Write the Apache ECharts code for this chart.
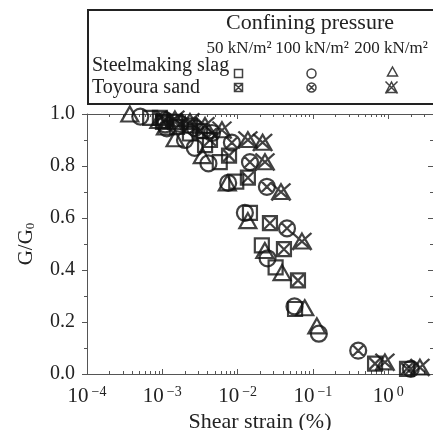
<!DOCTYPE html>
<html>
<head>
<meta charset="utf-8">
<script src="https://cdn.jsdelivr.net/npm/echarts@6/dist/echarts.min.js"></script>
<style>
  html, body { margin: 0; padding: 0; background: #fff; }
  #chart { width: 433px; height: 430px; }
</style>
</head>
<body>
<div id="chart"></div>
<script>
// Shear strain (%) against normalised shear modulus G/G0.
const slag50 = [
  [6.9e-4, 0.985], [1.02e-3, 0.97], [1.57e-3, 0.95], [2.33e-3, 0.925], [3.7e-3, 0.88],
  [5.8e-3, 0.815], [0.0096, 0.74], [0.0146, 0.62], [0.021, 0.495], [0.032, 0.41], [0.058, 0.25]
];
const slag100 = [
  [5.1e-4, 0.99], [1.09e-3, 0.96], [1.15e-3, 0.945], [2.0e-3, 0.90], [2.7e-3, 0.87],
  [4.1e-3, 0.81], [7.5e-3, 0.735], [0.0125, 0.62], [0.025, 0.445], [0.057, 0.26], [0.12, 0.155]
];
const slag200 = [
  [3.7e-4, 1.0], [9.0e-4, 0.975], [1.1e-3, 0.95], [1.48e-3, 0.905], [3.4e-3, 0.84],
  [7.3e-3, 0.735], [0.0137, 0.59], [0.023, 0.475], [0.039, 0.39], [0.078, 0.255], [0.113, 0.185]
];
const sand50 = [
  [9.3e-4, 0.985], [1.47e-3, 0.97], [2.33e-3, 0.955], [3.17e-3, 0.935], [4.3e-3, 0.90],
  [7.7e-3, 0.84], [0.0137, 0.755], [0.0269, 0.58], [0.0413, 0.48], [0.0634, 0.36],
  [0.67, 0.04], [1.78, 0.02]
];
const sand100 = [
  [1.09e-3, 0.977], [1.72e-3, 0.962], [2.72e-3, 0.946], [4.57e-3, 0.927], [8.4e-3, 0.89],
  [0.0146, 0.815], [0.0245, 0.72], [0.0453, 0.56], [0.40, 0.09], [2.0, 0.02]
];
const sand200 = [
  [1.47e-3, 0.98], [2.33e-3, 0.97], [3.69e-3, 0.955], [6.2e-3, 0.938], [0.0137, 0.90],
  [0.0215, 0.89], [0.0231, 0.815], [0.0377, 0.70], [0.0716, 0.51], [0.905, 0.045], [2.64, 0.025]
];

// Axis ticks
const xMajorTicks = [1e-4, 1e-3, 1e-2, 1e-1, 1];
const xTickExponents = ['\u22124', '\u22123', '\u22122', '\u22121', '0'];
const xMinorMultipliers = [2, 3, 4, 5, 6, 7, 8, 9];
const yTicks = [0, 0.2, 0.4, 0.6, 0.8, 1.0];
const pressureLabels = ['50 kN/m\u00b2', '100 kN/m\u00b2', '200 kN/m\u00b2'];

const xMinorTicks = [];
xMajorTicks.forEach(function (d) {
  xMinorMultipliers.forEach(function (m) {
    if (d * m < 3.9) xMinorTicks.push(d * m);
  });
});

const FONT = 'Liberation Serif';
const INK = '#111';
const AXIS = '#555';

const SYM_BOX_X = 'path://M0,0L10,0L10,10L0,10ZM0,0L10,10M10,0L0,10';
const SYM_CIRCLE_X = 'path://M0,5A5,5,0,1,1,10,5A5,5,0,1,1,0,5ZM1.46,1.46L8.54,8.54M8.54,1.46L1.46,8.54';
const SYM_TRI_X = 'path://M6,0.5L11.5,11L0.5,11ZM0,0L12,12M12,0L0,12';

const seriesDefs = [
  { name: 'Steelmaking slag 50', data: slag50, symbol: 'rect', size: 14, legendSize: [8, 8], pos: [237, 74] },
  { name: 'Steelmaking slag 100', data: slag100, symbol: 'circle', size: 16, legendSize: [9, 9], pos: [310, 74] },
  { name: 'Steelmaking slag 200', data: slag200, symbol: 'triangle', size: [17, 15], legendSize: [10, 9], pos: [391, 72] },
  { name: 'Toyoura sand 50', data: sand50, symbol: SYM_BOX_X, size: 14, legendSize: [8, 8], pos: [237, 88] },
  { name: 'Toyoura sand 100', data: sand100, symbol: SYM_CIRCLE_X, size: 16, legendSize: [9, 9], pos: [310, 88] },
  { name: 'Toyoura sand 200', data: sand200, symbol: SYM_TRI_X, size: [19, 17], legendSize: [12, 12], pos: [390, 88] }
];

const chart = echarts.init(document.getElementById('chart'), null, { renderer: 'canvas' });

function xAxisBase(position) {
  return {
    type: 'log',
    logBase: 10,
    min: 1e-4,
    max: 3.94,
    position: position,
    gridIndex: 0,
    splitLine: { show: false },
    axisLine: { show: true, onZero: false, lineStyle: { color: AXIS, width: 1 } },
    axisTick: { show: true, inside: true, length: 5, lineStyle: { color: AXIS } },
    axisLabel: { show: false }
  };
}

const xAxes = [];
// bottom: major ticks with labels
const xb = xAxisBase('bottom');
xb.axisTick.customValues = xMajorTicks;
xb.axisLabel = {
  show: true,
  customValues: xMajorTicks,
  margin: 11,
  formatter: function (v) {
    let i = 0;
    xMajorTicks.forEach(function (t, k) { if (Math.abs(t - v) / t < 1e-6) i = k; });
    return '{b|10}{s|' + xTickExponents[i] + '}';
  },
  rich: {
    b: { fontFamily: FONT, fontSize: 21, color: '#222', lineHeight: 22 },
    s: { fontFamily: FONT, fontSize: 14, color: '#222', lineHeight: 8, verticalAlign: 'top', padding: [0, 0, 0, 3] }
  }
};
xb.name = 'Shear strain (%)';
xb.nameLocation = 'middle';
xb.nameGap = 33;
xb.nameTextStyle = { fontFamily: FONT, fontSize: 22, color: '#222', verticalAlign: 'top' };
xAxes.push(xb);
// bottom: minor ticks
const xbm = xAxisBase('bottom');
xbm.axisLine.show = false;
xbm.axisTick.customValues = xMinorTicks;
xbm.axisTick.length = 3;
xAxes.push(xbm);
// top: major ticks
const xt = xAxisBase('top');
xt.axisTick.customValues = xMajorTicks;
xAxes.push(xt);
// top: minor ticks
const xtm = xAxisBase('top');
xtm.axisLine.show = false;
xtm.axisTick.customValues = xMinorTicks;
xtm.axisTick.length = 3;
xAxes.push(xtm);

function yAxisBase(position, inside) {
  return {
    type: 'value',
    min: yTicks[0],
    max: yTicks[yTicks.length - 1],
    interval: 0.2,
    position: position,
    splitLine: { show: false },
    axisLine: { show: true, lineStyle: { color: AXIS, width: 1 } },
    axisTick: { show: true, inside: inside, length: 5, lineStyle: { color: AXIS } },
    minorTick: { show: true, splitNumber: 2, length: 3, lineStyle: { color: AXIS } },
    axisLabel: { show: false }
  };
}
const yl = yAxisBase('left', false);
yl.axisLabel = {
  show: true,
  margin: 12,
  fontFamily: FONT,
  fontSize: 20,
  color: '#222',
  formatter: function (v) { return v.toFixed(1); }
};
yl.name = '{a|G/G}{sub|0}';
yl.nameLocation = 'middle';
yl.nameGap = 50;
yl.nameRotate = 90;
yl.nameTextStyle = {
  rich: {
    a: { fontFamily: FONT, fontSize: 21, color: '#222', lineHeight: 22 },
    sub: { fontFamily: FONT, fontSize: 13, color: '#222', lineHeight: 10, verticalAlign: 'bottom' }
  }
};
const yr = yAxisBase('right', true);

const series = seriesDefs.map(function (d) {
  return {
    name: d.name,
    type: 'scatter',
    xAxisIndex: 0,
    yAxisIndex: 0,
    data: d.data,
    symbol: d.symbol,
    symbolSize: d.size,
    clip: false,
    itemStyle: { color: 'none', borderColor: INK, borderWidth: 2.2 },
    emphasis: { disabled: true }
  };
});

// one icon-only legend per series, laid out as a pressure-by-material table
const legends = seriesDefs.map(function (d) {
  return {
    data: [{ name: d.name, icon: d.symbol }],
    left: d.pos[0] - d.legendSize[0] / 2 - 1,
    top: d.pos[1] - d.legendSize[1] / 2 - 3,
    itemWidth: d.legendSize[0],
    itemHeight: d.legendSize[1],
    padding: 0,
    itemGap: 0,
    selectedMode: false,
    formatter: function () { return ''; },
    textStyle: { fontSize: 1 },
    itemStyle: { color: 'none', borderColor: INK, borderWidth: 1.5 }
  };
});

const graphics = [
  {
    type: 'rect',
    z: 100,
    shape: { x: 88, y: 10, width: 346, height: 94 },
    style: { fill: 'none', stroke: '#222', lineWidth: 2 },
    silent: true
  },
  {
    type: 'text', x: 310, y: 23,
    style: { text: 'Confining pressure', font: '22px "Liberation Serif"', fill: '#222', align: 'center', verticalAlign: 'middle' }
  },
  {
    type: 'text', x: 92, y: 66,
    style: { text: 'Steelmaking slag', font: '20px "Liberation Serif"', fill: '#222', align: 'left', verticalAlign: 'middle' }
  },
  {
    type: 'text', x: 92, y: 88,
    style: { text: 'Toyoura sand', font: '20px "Liberation Serif"', fill: '#222', align: 'left', verticalAlign: 'middle' }
  }
];
[239, 312, 391].forEach(function (cx, i) {
  graphics.push({
    type: 'text', x: cx, y: 49,
    style: { text: pressureLabels[i], font: '17px "Liberation Serif"', fill: '#222', align: 'center', verticalAlign: 'middle' }
  });
});

chart.setOption({
  animation: false,
  backgroundColor: '#fff',
  grid: { left: 87, right: 0, top: 114, bottom: 56, outerBoundsMode: 'none' },
  xAxis: xAxes,
  yAxis: [yl, yr],
  legend: legends,
  series: series,
  graphic: graphics
});
</script>
</body>
</html>
